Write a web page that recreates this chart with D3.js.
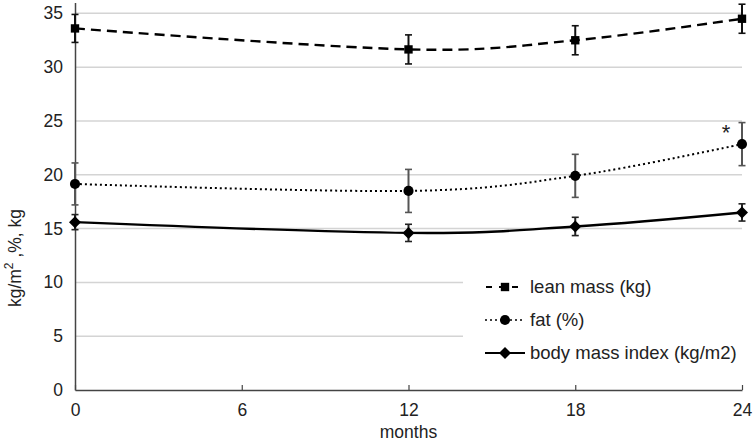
<!DOCTYPE html>
<html>
<head>
<meta charset="utf-8">
<script src="https://cdn.jsdelivr.net/npm/d3@7"></script>
<style>
body { margin: 0; background: #fff; }
text { font-family: "Liberation Sans", Arial, sans-serif; fill: #222; }
</style>
</head>
<body>
<div id="chart"></div>
<script>
var months = [0, 12, 18, 24]
var xTicks = [0, 6, 12, 18, 24]
var yTicks = [0, 5, 10, 15, 20, 25, 30, 35]

var leanMass = [33.6, 31.65, 32.5, 34.5]
var leanErr = [1.3, 1.35, 1.35, 1.35]
var fatPct = [19.15, 18.5, 19.9, 22.85]
var fatErr = [1.95, 2.0, 2.0, 2.0]
var bmi = [15.6, 14.6, 15.2, 16.5]
var bmiErr = [0.7, 0.8, 0.85, 0.8]

var legendNames = ['lean mass (kg)', 'fat (%)', 'body mass index (kg/m2)']

var width = 755, height = 444
var svg = d3.select('#chart')
            .append('svg')
            .attr('width', width)
            .attr('height', height)

var x = d3.scaleLinear().domain([0, 24]).range([75, 742])
var y = d3.scaleLinear().domain([0, 36]).range([390, 2.6])

// gridlines
svg.append('g')
    .selectAll('line')
    .data(yTicks.filter(function(d){ return d > 0 }))
    .enter()
    .append('line')
    .attr('x1', x(0))
    .attr('x2', x(24))
    .attr('y1', function(d){ return y(d) })
    .attr('y2', function(d){ return y(d) })
    .attr('stroke', '#d4d4d4')
    .attr('stroke-width', 1.5)

// white box behind legend
svg.append('rect')
    .attr('x', 463)
    .attr('y', 268)
    .attr('width', 290)
    .attr('height', 104)
    .attr('fill', '#fff')

// y axis
var yAxis = d3.axisLeft(y).tickValues(yTicks).tickSize(0).tickPadding(12)
var gy = svg.append('g').attr('transform', 'translate(' + x(0) + ',0)').call(yAxis)
gy.select('.domain').attr('stroke', '#444').attr('stroke-width', 1.5)
gy.selectAll('text').style('font-size', '17.5px').attr('fill', '#222')

// x axis, ticks point upward
var xAxis = d3.axisBottom(x).tickValues(xTicks).tickSize(-5).tickSizeOuter(0).tickPadding(14)
var gx = svg.append('g').attr('transform', 'translate(0,' + y(0) + ')').call(xAxis)
gx.select('.domain').attr('stroke', '#444').attr('stroke-width', 1.5)
gx.selectAll('.tick line').attr('stroke', '#444').attr('stroke-width', 1.2)
gx.selectAll('text').style('font-size', '17.5px').attr('fill', '#222')

svg.append('text')
    .attr('x', x(12))
    .attr('y', 438)
    .attr('text-anchor', 'middle')
    .style('font-size', '17.5px')
    .text('months')

var ylab = svg.append('text')
    .attr('transform', 'translate(21,' + 258 + ') rotate(-90)')
    .attr('text-anchor', 'middle')
    .style('font-size', '17.5px')
ylab.append('tspan').text('kg/m')
ylab.append('tspan').attr('dy', -8).style('font-size', '12px').text('2')
ylab.append('tspan').attr('dy', 8).text(' ,%, kg')

var series = [
    {vals: leanMass, err: leanErr, dash: '10,6', errColor: '#111', marker: 'square'},
    {vals: fatPct, err: fatErr, dash: '2,3', errColor: '#555', marker: 'circle'},
    {vals: bmi, err: bmiErr, dash: null, errColor: '#222', marker: 'diamond'}
]

var line = d3.line()
    .x(function(d){ return x(d[0]) })
    .y(function(d){ return y(d[1]) })
    .curve(d3.curveCardinal.tension(0))

var diamondPath = function(){ return 'M0,-6L6,0L0,6L-6,0Z' }
var symbols = {
    square: d3.symbol().type(d3.symbolSquare).size(70),
    circle: d3.symbol().type(d3.symbolCircle).size(80),
    diamond: diamondPath
}

series.forEach(function(s){
    var pts = months.map(function(m, i){ return [m, s.vals[i], s.err[i]] })
    var g = svg.append('g')
    // error bars
    var eb = g.selectAll('g.err').data(pts).enter().append('g').attr('class', 'err')
    eb.append('line')
        .attr('x1', function(d){ return x(d[0]) })
        .attr('x2', function(d){ return x(d[0]) })
        .attr('y1', function(d){ return y(d[1] + d[2]) })
        .attr('y2', function(d){ return y(d[1] - d[2]) })
        .attr('stroke', s.errColor).attr('stroke-width', 2)
    eb.selectAll('line.cap')
        .data(function(d){ return [d[1] + d[2], d[1] - d[2]].map(function(v){ return [d[0], v] }) })
        .enter().append('line').attr('class', 'cap')
        .attr('x1', function(d){ return x(d[0]) - 3.5 })
        .attr('x2', function(d){ return x(d[0]) + 3.5 })
        .attr('y1', function(d){ return y(d[1]) })
        .attr('y2', function(d){ return y(d[1]) })
        .attr('stroke', s.errColor).attr('stroke-width', 1.6)
    g.append('path')
        .datum(pts)
        .attr('d', line)
        .attr('fill', 'none')
        .attr('stroke', '#000')
        .attr('stroke-width', s.marker == 'circle' ? 2 : 2.4)
        .attr('stroke-dasharray', s.dash)
    g.selectAll('path.mk').data(pts).enter().append('path').attr('class', 'mk')
        .attr('d', symbols[s.marker])
        .attr('transform', function(d){ return 'translate(' + x(d[0]) + ',' + y(d[1]) + ')' })
        .attr('fill', '#000')
})

// significance mark
svg.append('text')
    .attr('x', x(24) - 16)
    .attr('y', y(fatPct[3] + fatErr[3]) + 17)
    .attr('text-anchor', 'middle')
    .style('font-size', '22px')
    .text('*')

// legend
var lg = svg.append('g').selectAll('g').data(series).enter().append('g')
    .attr('transform', function(d, i){ return 'translate(485,' + (287 + i * 33) + ')' })
lg.append('line')
    .attr('x1', 0).attr('x2', 40).attr('y1', 0).attr('y2', 0)
    .attr('stroke', '#000')
    .attr('stroke-width', function(d){ return d.marker == 'circle' ? 1.6 : 2.2 })
    .attr('stroke-dasharray', function(d){ return d.marker == 'square' ? '6,7' : d.dash })
    .attr('stroke-dashoffset', function(d){ return d.marker == 'square' ? -1 : 0 })
lg.append('path')
    .attr('d', function(d){ return symbols[d.marker]() })
    .attr('transform', 'translate(20,0)')
    .attr('fill', '#000')
lg.append('text')
    .attr('x', 45)
    .attr('y', 6)
    .style('font-size', '18.5px')
    .text(function(d, i){ return legendNames[i] })
</script>
</body>
</html>
